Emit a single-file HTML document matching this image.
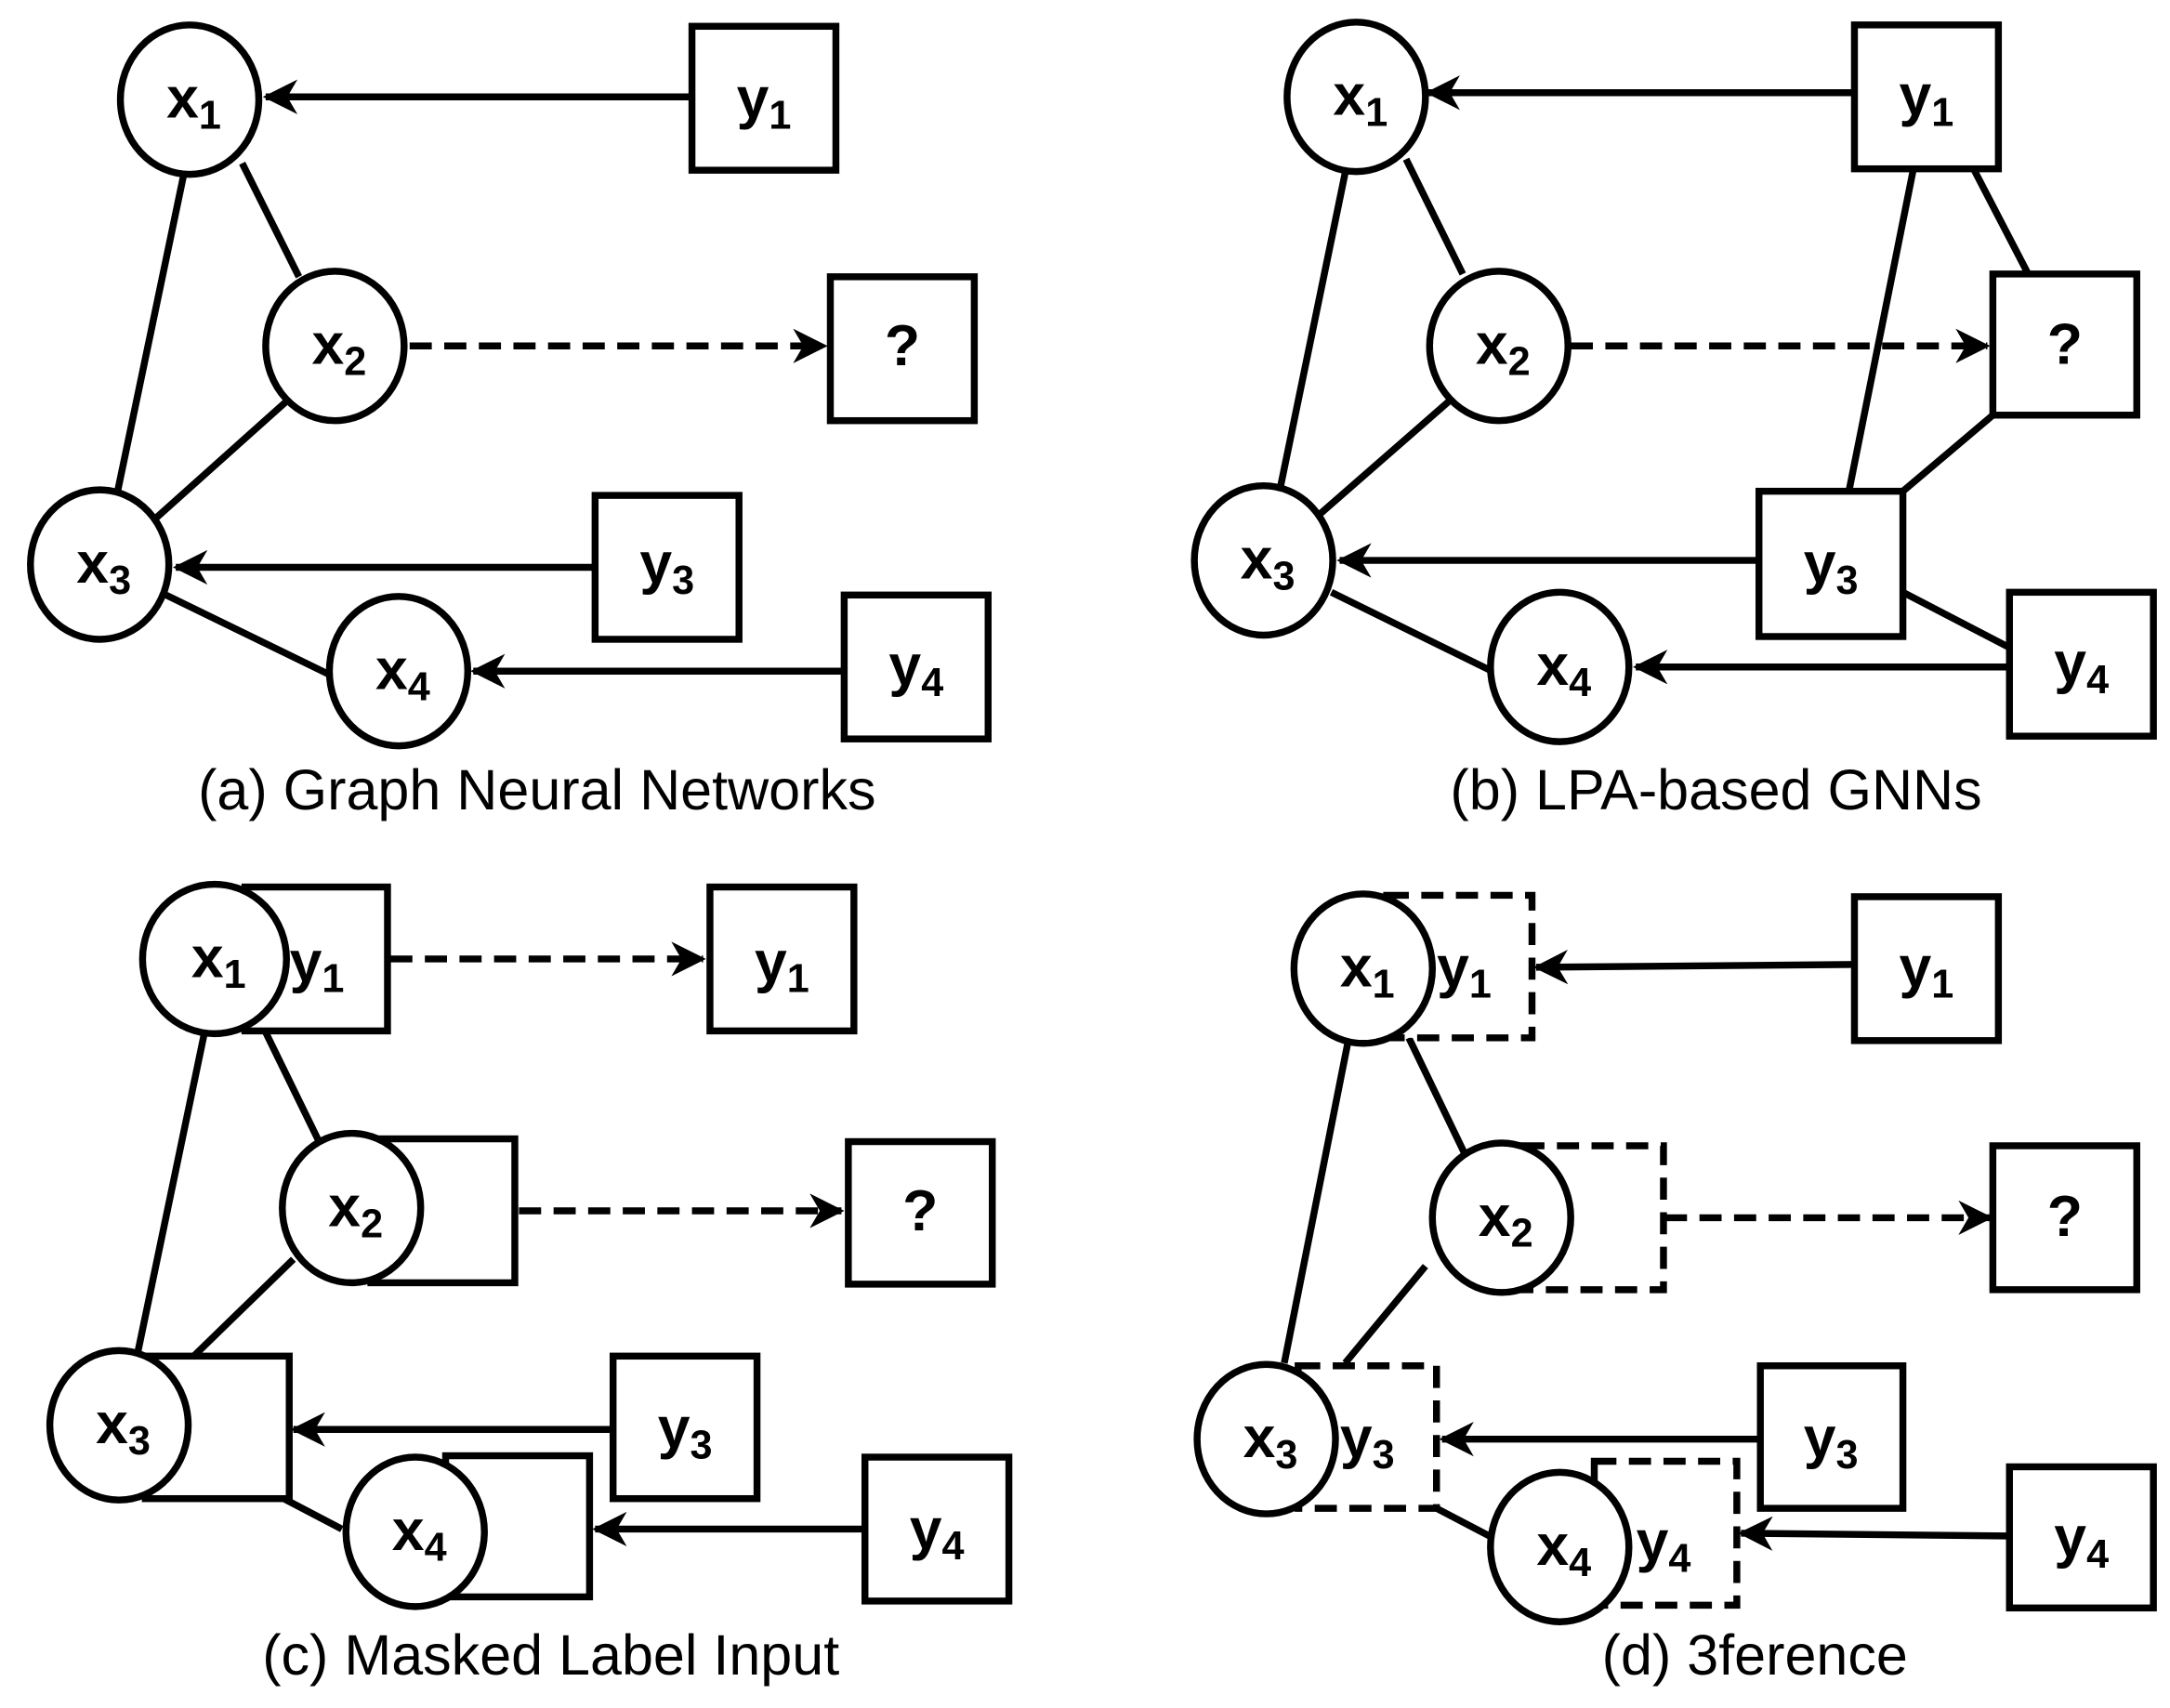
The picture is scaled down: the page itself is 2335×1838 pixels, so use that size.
<!DOCTYPE html>
<html><head><meta charset="utf-8"><style>
html,body{margin:0;padding:0;background:#fff;}
svg{display:block;}
text{font-family:"Liberation Sans",sans-serif;}
.n{font-weight:bold;font-size:42px;text-anchor:middle;}
.n tspan{font-size:29px;}
.cap{font-size:41px;text-anchor:middle;}
</style></head><body>
<svg width="2335" height="1838" viewBox="0 0 1568 1234.3" preserveAspectRatio="none" xmlns="http://www.w3.org/2000/svg">
<defs>
<marker id="a" viewBox="0 0 12 12" refX="11" refY="6" markerWidth="5" markerHeight="5" orient="auto" markerUnits="strokeWidth">
<path d="M0,0 L12,6 L0,12 L3.5,6 z" fill="#000"/>
</marker>
</defs>
<g stroke="#000" stroke-width="5" fill="none">
<!-- Panel a -->
<line x1="133" y1="125" x2="85" y2="355"/>
<line x1="175" y1="118" x2="216" y2="200"/>
<line x1="207" y1="290" x2="112" y2="375"/>
<line x1="120" y1="430" x2="237" y2="487"/>
<line x1="500" y1="70" x2="192" y2="70" marker-end="url(#a)"/>
<line x1="296" y1="250" x2="596" y2="250" stroke-dasharray="16,9" marker-end="url(#a)"/>
<line x1="430" y1="410" x2="127" y2="410" marker-end="url(#a)"/>
<line x1="610" y1="485" x2="342" y2="485" marker-end="url(#a)"/>
<g fill="#fff">
<ellipse cx="137" cy="72" rx="50" ry="54"/>
<ellipse cx="242" cy="250" rx="50" ry="54"/>
<ellipse cx="72" cy="408" rx="50" ry="54"/>
<ellipse cx="288" cy="485" rx="50" ry="54"/>
<rect x="500" y="19" width="104" height="104"/>
<rect x="600" y="200" width="104" height="104"/>
<rect x="430" y="358" width="104" height="104"/>
<rect x="610" y="430" width="104" height="104"/>
</g>
<!-- Panel b -->
<line x1="973" y1="120" x2="925" y2="353"/>
<line x1="1016" y1="115" x2="1057" y2="198"/>
<line x1="1047" y1="290" x2="952" y2="373"/>
<line x1="962" y1="428" x2="1078" y2="485"/>
<line x1="1383" y1="120" x2="1336" y2="355"/>
<line x1="1425" y1="120" x2="1465" y2="197"/>
<line x1="1440" y1="300" x2="1375" y2="355"/>
<line x1="1375" y1="428" x2="1452" y2="468"/>
<line x1="1340" y1="67" x2="1032" y2="67" marker-end="url(#a)"/>
<line x1="1135" y1="250" x2="1436" y2="250" stroke-dasharray="16,9" marker-end="url(#a)"/>
<line x1="1270" y1="405" x2="968" y2="405" marker-end="url(#a)"/>
<line x1="1452" y1="482" x2="1182" y2="482" marker-end="url(#a)"/>
<g fill="#fff">
<ellipse cx="980" cy="70" rx="50" ry="54"/>
<ellipse cx="1083" cy="250" rx="50" ry="54"/>
<ellipse cx="913" cy="405" rx="50" ry="54"/>
<ellipse cx="1127" cy="482" rx="50" ry="54"/>
<rect x="1340" y="18" width="104" height="104"/>
<rect x="1440" y="198" width="104" height="102"/>
<rect x="1271" y="355" width="104" height="105"/>
<rect x="1452" y="428" width="104" height="104"/>
</g>
<!-- Panel c -->
<line x1="148" y1="745" x2="99" y2="980"/>
<line x1="190" y1="742" x2="232" y2="828"/>
<line x1="212" y1="910" x2="140" y2="980"/>
<line x1="205" y1="1083" x2="247" y2="1105"/>
<line x1="282" y1="693" x2="508" y2="693" stroke-dasharray="16,9" marker-end="url(#a)"/>
<line x1="375" y1="875" x2="608" y2="875" stroke-dasharray="16,9" marker-end="url(#a)"/>
<line x1="443" y1="1033" x2="212" y2="1033" marker-end="url(#a)"/>
<line x1="625" y1="1105" x2="430" y2="1105" marker-end="url(#a)"/>
<g fill="#fff">
<rect x="177" y="641" width="103" height="104"/>
<ellipse cx="155" cy="693" rx="52" ry="54"/>
<rect x="268" y="823" width="104" height="104"/>
<ellipse cx="254" cy="873" rx="50" ry="54"/>
<rect x="105" y="980" width="104" height="103"/>
<ellipse cx="86" cy="1030" rx="50" ry="54"/>
<rect x="322" y="1052" width="104" height="102"/>
<ellipse cx="300" cy="1107" rx="50" ry="54"/>
<rect x="513" y="641" width="104" height="104"/>
<rect x="613" y="825" width="104" height="103"/>
<rect x="443" y="980" width="104" height="103"/>
<rect x="625" y="1053" width="104" height="104"/>
</g>
<!-- Panel d -->
<line x1="975" y1="748" x2="928" y2="985"/>
<line x1="1018" y1="750" x2="1058" y2="833"/>
<line x1="1030" y1="915" x2="972" y2="985"/>
<line x1="1038" y1="1090" x2="1080" y2="1112"/>
<line x1="1340" y1="697" x2="1110" y2="699" marker-end="url(#a)"/>
<line x1="1203" y1="880" x2="1438" y2="880" stroke-dasharray="16,9" marker-end="url(#a)"/>
<line x1="1272" y1="1040" x2="1042" y2="1040" marker-end="url(#a)"/>
<line x1="1452" y1="1110" x2="1258" y2="1108" marker-end="url(#a)"/>
<g fill="#fff">
<rect x="1002" y="647" width="105" height="103" stroke-dasharray="16,9"/>
<ellipse cx="985" cy="700" rx="50" ry="54"/>
<rect x="1100" y="828" width="102" height="104" stroke-dasharray="16,9"/>
<ellipse cx="1085" cy="880" rx="50" ry="54"/>
<rect x="938" y="987" width="100" height="103" stroke-dasharray="16,9"/>
<ellipse cx="915" cy="1040" rx="50" ry="54"/>
<rect x="1152" y="1056" width="103" height="104" stroke-dasharray="16,9"/>
<ellipse cx="1127" cy="1118" rx="50" ry="54"/>
<rect x="1340" y="648" width="104" height="104"/>
<rect x="1440" y="828" width="104" height="104"/>
<rect x="1272" y="987" width="103" height="103"/>
<rect x="1452" y="1060" width="104" height="102"/>
</g>
</g>
<g class="n">
<!-- a -->
<text x="140" y="85">x<tspan dy="8">1</tspan></text>
<text x="552" y="85">y<tspan dy="8">1</tspan></text>
<text x="245" y="263">x<tspan dy="8">2</tspan></text>
<text x="652" y="264">?</text>
<text x="75" y="421">x<tspan dy="8">3</tspan></text>
<text x="482" y="421">y<tspan dy="8">3</tspan></text>
<text x="291" y="498">x<tspan dy="8">4</tspan></text>
<text x="662" y="495">y<tspan dy="8">4</tspan></text>
<!-- b -->
<text x="983" y="83">x<tspan dy="8">1</tspan></text>
<text x="1392" y="83">y<tspan dy="8">1</tspan></text>
<text x="1086" y="263">x<tspan dy="8">2</tspan></text>
<text x="1492" y="263">?</text>
<text x="916" y="418">x<tspan dy="8">3</tspan></text>
<text x="1323" y="421">y<tspan dy="8">3</tspan></text>
<text x="1130" y="495">x<tspan dy="8">4</tspan></text>
<text x="1504" y="493">y<tspan dy="8">4</tspan></text>
<!-- c -->
<text x="158" y="706">x<tspan dy="8">1</tspan></text>
<text x="229" y="709">y<tspan dy="8">1</tspan></text>
<text x="565" y="709">y<tspan dy="8">1</tspan></text>
<text x="257" y="886">x<tspan dy="8">2</tspan></text>
<text x="665" y="889">?</text>
<text x="89" y="1043">x<tspan dy="8">3</tspan></text>
<text x="495" y="1046">y<tspan dy="8">3</tspan></text>
<text x="303" y="1120">x<tspan dy="8">4</tspan></text>
<text x="677" y="1119">y<tspan dy="8">4</tspan></text>
<!-- d -->
<text x="988" y="713">x<tspan dy="8">1</tspan></text>
<text x="1058" y="713">y<tspan dy="8">1</tspan></text>
<text x="1392" y="713">y<tspan dy="8">1</tspan></text>
<text x="1088" y="893">x<tspan dy="8">2</tspan></text>
<text x="1492" y="893">?</text>
<text x="918" y="1053">x<tspan dy="8">3</tspan></text>
<text x="988" y="1053">y<tspan dy="8">3</tspan></text>
<text x="1323" y="1053">y<tspan dy="8">3</tspan></text>
<text x="1130" y="1131">x<tspan dy="8">4</tspan></text>
<text x="1202" y="1128">y<tspan dy="8">4</tspan></text>
<text x="1504" y="1125">y<tspan dy="8">4</tspan></text>
</g>
<g class="cap">
<text x="388" y="585">(a) Graph Neural Networks</text>
<text x="1240" y="585">(b) LPA-based GNNs</text>
<text x="398" y="1210">(c) Masked Label Input</text>
<text x="1268" y="1210">(d) 3ference</text>
</g>
</svg>
</body></html>
